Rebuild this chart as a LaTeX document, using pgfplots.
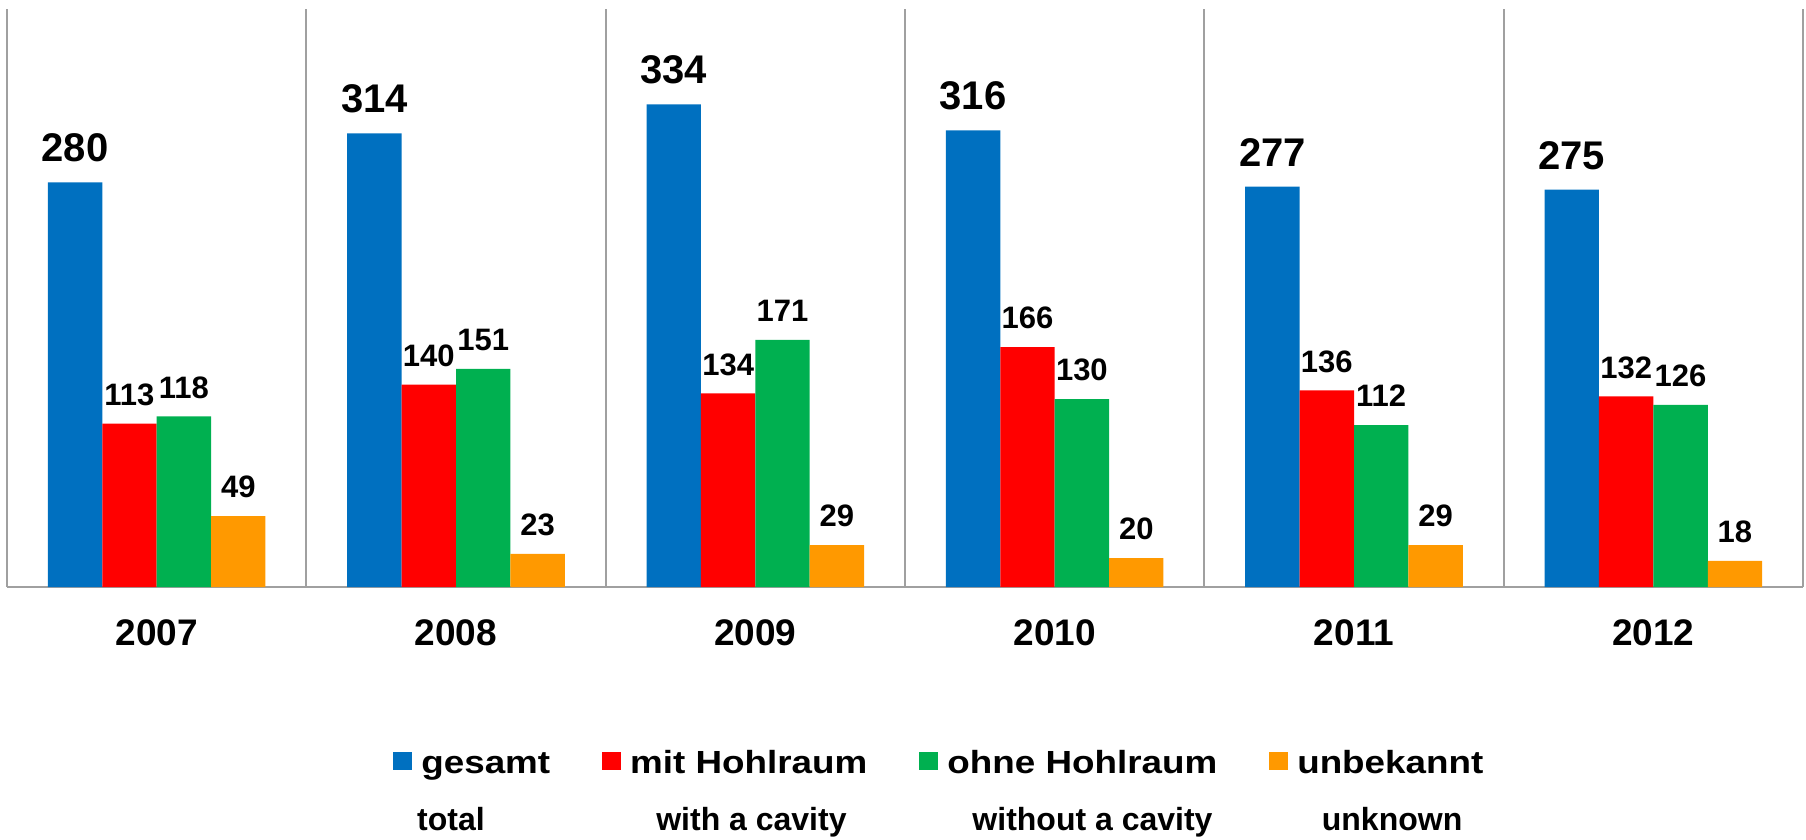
\documentclass[border=0pt]{standalone}
\usepackage{pgfplots}
\pgfplotsset{compat=1.18}
\usepackage{fontspec}
\setmainfont{Liberation Sans}
\usepackage{graphicx}
\definecolor{cblue}{HTML}{0070C0}
\definecolor{cred}{HTML}{FF0000}
\definecolor{cgreen}{HTML}{00B050}
\definecolor{corange}{HTML}{FF9900}
\definecolor{cgrid}{HTML}{A0A0A0}
\begin{document}
\begin{tikzpicture}
\begin{axis}[
  name=ax,
  scale only axis, width=898pt, height=289pt,
  xmin=-0.5, xmax=5.5, ymin=0, ymax=400,
  clip=false,
  /pgf/number format/assume math mode=true,
  ybar=0pt, bar width=27.2pt,
  axis x line*=bottom, axis y line*=left,
  x axis line style={-, draw=cgrid, line width=1pt},
  y axis line style={draw=none},
  ytick=\empty,
  xtick={0,...,5}, xticklabels={2007,2008,2009,2010,2011,2012},
  major tick length=0pt,
  xticklabel style={font=\fontsize{18.5}{20}\selectfont\bfseries, anchor=base, yshift=-29pt, inner sep=0pt},
  extra x ticks={-0.5,0.5,1.5,2.5,3.5,4.5,5.5},
  extra x tick labels={},
  extra x tick style={grid=major, major grid style={draw=cgrid, line width=1pt}},
  legend columns=4,
  legend style={draw=none, fill=none, at={(axis description cs:0.2149,-0.2827)}, anchor=north west,
    font=\fontsize{16}{18}\selectfont\bfseries, inner sep=0pt, column sep=4.5pt,
    nodes={inner sep=0pt, text height=11.5pt, text depth=3.5pt},
    /tikz/every even column/.append style={column sep=26pt}},
  legend image code/.code={\fill[#1] (0pt,-2pt) rectangle (9.5pt,6.8pt);},
]
\addplot[fill=cblue, draw=none, nodes near coords,
  every node near coord/.append style={font=\fontsize{20}{22}\selectfont\bfseries, anchor=base, yshift=10.3pt, inner sep=0pt}]
  coordinates {(0,280) (1,314) (2,334) (3,316) (4,277) (5,275)};
\addplot[fill=cred, draw=none, nodes near coords,
  every node near coord/.append style={font=\fontsize{15.5}{17}\selectfont\bfseries, anchor=base, yshift=9.1pt, inner sep=0pt}]
  coordinates {(0,113) (1,140) (2,134) (3,166) (4,136) (5,132)};
\addplot[fill=cgreen, draw=none, nodes near coords,
  every node near coord/.append style={font=\fontsize{15.5}{17}\selectfont\bfseries, anchor=base, yshift=9.1pt, inner sep=0pt}]
  coordinates {(0,118) (1,151) (2,171) (3,130) (4,112) (5,126)};
\addplot[fill=corange, draw=none, nodes near coords,
  every node near coord/.append style={font=\fontsize{15.5}{17}\selectfont\bfseries, anchor=base, yshift=9.1pt, inner sep=0pt}]
  coordinates {(0,49) (1,23) (2,29) (3,20) (4,29) (5,18)};
\legend{\scalebox{1.15}[1]{gesamt}, \scalebox{1.15}[1]{mit Hohlraum}, \scalebox{1.15}[1]{ohne Hohlraum}, \scalebox{1.15}[1]{unbekannt}}
\coordinate (bl) at (rel axis cs:0,0);
\coordinate (tr) at (rel axis cs:1,1);
\node[font=\fontsize{16}{18}\selectfont\bfseries, anchor=base, inner sep=0pt] at (axis description cs:0.2472,-0.4221) {total};
\node[font=\fontsize{16}{18}\selectfont\bfseries, anchor=base, inner sep=0pt] at (axis description cs:0.4145,-0.4221) {with a cavity};
\node[font=\fontsize{16}{18}\selectfont\bfseries, anchor=base, inner sep=0pt] at (axis description cs:0.6044,-0.4221) {without a cavity};
\node[font=\fontsize{16}{18}\selectfont\bfseries, anchor=base, inner sep=0pt] at (axis description cs:0.7712,-0.4221) {unknown};
\end{axis}
\pgfresetboundingbox
\path[use as bounding box] ([shift={(-3.5pt,-126pt)}]bl) rectangle ([shift={(1.5pt,4.5pt)}]tr);
\end{tikzpicture}
\end{document}
